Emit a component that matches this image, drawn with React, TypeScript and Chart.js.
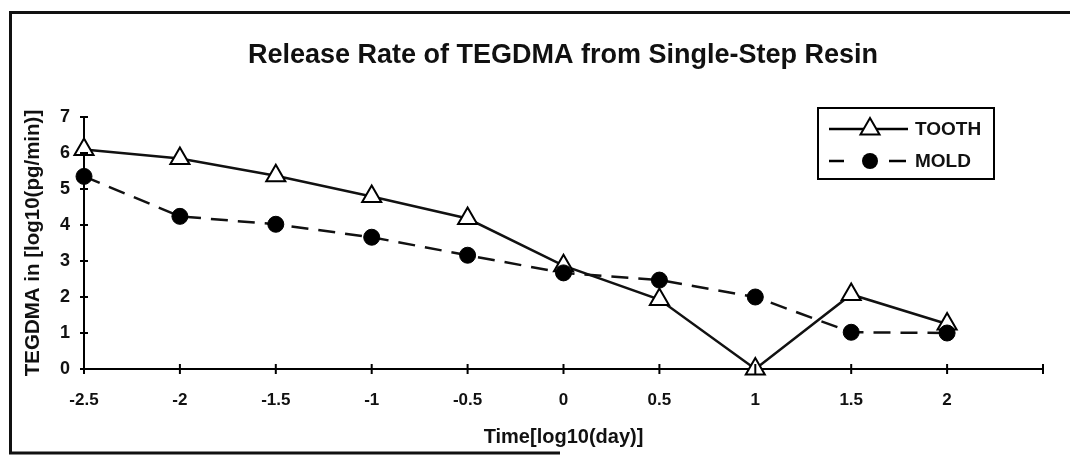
import React, { useEffect, useRef } from "react";
import { Chart, registerables } from "chart.js";

Chart.register(...registerables);

const chartTitle = "Release Rate of TEGDMA from Single-Step Resin";
const xAxisTitle = "Time[log10(day)]";
const yAxisTitle = "TEGDMA in [log10(pg/min)]";
const seriesNames = ["TOOTH", "MOLD"];
const xValues = [-2.5, -2, -1.5, -1, -0.5, 0, 0.5, 1, 1.5, 2];
const toothValues = [6.1, 5.85, 5.37, 4.79, 4.18, 2.87, 1.93, 0, 2.07, 1.25];
const moldValues = [5.35, 4.24, 4.02, 3.66, 3.16, 2.67, 2.47, 2.0, 1.02, 1.0];

const FONT = "'Liberation Sans', Arial, Helvetica, sans-serif";

const framePlugin = {
  id: "frame",
  beforeDraw(chart: any) {
    const ctx = chart.ctx;
    ctx.save();
    ctx.fillStyle = "#ffffff";
    ctx.fillRect(0, 0, chart.width, chart.height);
    ctx.strokeStyle = "#111111";
    ctx.lineWidth = 3;
    ctx.beginPath();
    ctx.moveTo(chart.width, 12.5);
    ctx.lineTo(10.5, 12.5);
    ctx.lineTo(10.5, 453);
    ctx.lineTo(560, 453);
    ctx.stroke();
    // chart title
    ctx.fillStyle = "#111";
    ctx.font = `bold 27px ${FONT}`;
    ctx.textAlign = "center";
    ctx.textBaseline = "middle";
    ctx.fillText(chartTitle, 563, 56);
    ctx.restore();
  },
  afterDraw(chart: any) {
    const ctx = chart.ctx;
    const xs = chart.scales.x;
    const ys = chart.scales.y;
    ctx.save();
    ctx.strokeStyle = "#000";
    ctx.lineWidth = 2;
    // crossing ticks
    ys.ticks.forEach((t: any) => {
      const py = ys.getPixelForValue(t.value);
      ctx.beginPath();
      ctx.moveTo(xs.left - 4, py);
      ctx.lineTo(xs.left + 4, py);
      ctx.stroke();
    });
    xs.ticks.forEach((t: any) => {
      const px = xs.getPixelForValue(t.value);
      ctx.beginPath();
      ctx.moveTo(px, ys.bottom - 5);
      ctx.lineTo(px, ys.bottom + 5);
      ctx.stroke();
    });
    ctx.restore();

    // legend
    const lx = 818, ly = 108, lw = 176, lh = 71;
    ctx.save();
    ctx.strokeStyle = "#000";
    ctx.lineWidth = 2;
    ctx.strokeRect(lx, ly, lw, lh);
    const rows = [129, 161];
    // TOOTH row
    ctx.lineWidth = 2.5;
    ctx.beginPath();
    ctx.moveTo(829, rows[0]);
    ctx.lineTo(908, rows[0]);
    ctx.stroke();
    const r = 11;
    ctx.beginPath();
    ctx.moveTo(870, rows[0] - r);
    ctx.lineTo(870 + r * Math.sin((2 * Math.PI) / 3), rows[0] - r * Math.cos((2 * Math.PI) / 3));
    ctx.lineTo(870 + r * Math.sin((4 * Math.PI) / 3), rows[0] - r * Math.cos((4 * Math.PI) / 3));
    ctx.closePath();
    ctx.fillStyle = "#fff";
    ctx.fill();
    ctx.lineWidth = 2;
    ctx.stroke();
    // MOLD row
    ctx.lineWidth = 2.5;
    ctx.beginPath();
    ctx.moveTo(829, rows[1]);
    ctx.lineTo(844, rows[1]);
    ctx.moveTo(889, rows[1]);
    ctx.lineTo(906, rows[1]);
    ctx.stroke();
    ctx.beginPath();
    ctx.arc(870, rows[1], 8, 0, Math.PI * 2);
    ctx.fillStyle = "#000";
    ctx.fill();
    ctx.fillStyle = "#111";
    ctx.font = `bold 19px ${FONT}`;
    ctx.textBaseline = "middle";
    ctx.textAlign = "left";
    ctx.fillText(seriesNames[0], 915, rows[0] + 1);
    ctx.fillText(seriesNames[1], 915, rows[1] + 1);
    ctx.restore();
  },
};

export default function App() {
  const ref = useRef<HTMLCanvasElement>(null);
  useEffect(() => {
    if (!ref.current) return;
    const chart = new Chart(ref.current, {
      type: "line",
      data: {
        datasets: [
          {
            label: seriesNames[1],
            data: xValues.map((x, i) => ({ x, y: moldValues[i] })),
            borderColor: "#111",
            borderWidth: 2.5,
            borderDash: [17, 10],
            pointStyle: "circle",
            pointRadius: 8,
            pointBackgroundColor: "#000",
            pointBorderColor: "#000",
            pointBorderWidth: 1,
            tension: 0,
            clip: false as any,
          },
          {
            label: seriesNames[0],
            data: xValues.map((x, i) => ({ x, y: toothValues[i] })),
            borderColor: "#111",
            borderWidth: 2.5,
            pointStyle: "triangle",
            pointRadius: 11,
            pointBackgroundColor: "#fff",
            pointBorderColor: "#000",
            pointBorderWidth: 2,
            tension: 0,
            clip: false as any,
          },
        ],
      },
      options: {
        animation: false,
        responsive: false,
        devicePixelRatio: 1,
        layout: { padding: { left: 14, right: 27, top: 117, bottom: 4 } },
        plugins: {
          legend: { display: false },
          tooltip: { enabled: false },
          title: { display: false },
        },
        scales: {
          x: {
            type: "linear",
            min: -2.5,
            max: 2.5,
            grid: { display: false, drawTicks: false },
            border: { display: true, color: "#000", width: 2 },
            ticks: {
              stepSize: 0.5,
              color: "#111",
              font: { family: FONT, size: 17, weight: "bold" },
              padding: 21,
              maxRotation: 0,
              autoSkip: false,
              callback: (v: any) => (Math.abs(v - 2.5) < 1e-9 ? "" : String(v)),
            },
            title: {
              display: true,
              text: xAxisTitle,
              color: "#111",
              font: { family: FONT, size: 20, weight: "bold" },
              padding: { top: 0, bottom: 3 },
            },
            afterFit: (s: any) => {
              s.height = 83;
            },
          },
          y: {
            type: "linear",
            min: 0,
            max: 7,
            grid: { display: false, drawTicks: false },
            border: { display: true, color: "#000", width: 2 },
            ticks: {
              stepSize: 1,
              color: "#111",
              font: { family: FONT, size: 18, weight: "bold" },
              padding: 14,
            },
            title: {
              display: true,
              text: yAxisTitle,
              color: "#111",
              font: { family: FONT, size: 20.5, weight: "bold" },
              padding: { top: 7, bottom: 0 },
            },
            afterFit: (s: any) => {
              s.width = 70;
            },
          },
        },
      },
      plugins: [framePlugin],
    });
    return () => chart.destroy();
  }, []);
  return (
    <div style={{ position: "fixed", left: 0, top: 0, width: 1070, height: 456, background: "#fff" }}>
      <canvas ref={ref} width={1070} height={456} style={{ display: "block" }} />
    </div>
  );
}
